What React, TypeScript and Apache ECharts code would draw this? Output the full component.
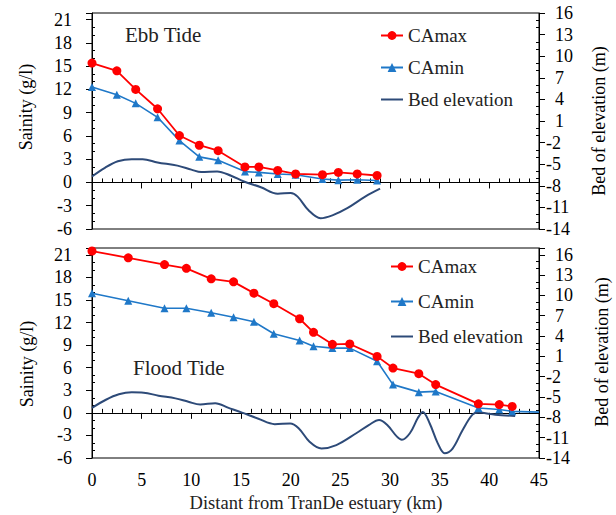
import React, { useEffect, useRef } from "react";
import * as echarts from "echarts";

// ---------- data ----------
// Ebb tide (top panel)
const ebbKm = [0, 2.5, 4.4, 6.6, 8.8, 10.8, 12.7, 15.4, 16.8, 18.7, 20.5, 23.2, 24.8, 26.7, 28.7];
const ebbMax = [15.4, 14.4, 12.0, 9.5, 6.05, 4.8, 4.1, 2.0, 2.0, 1.55, 1.1, 1.0, 1.3, 1.1, 0.9];
const ebbMin = [12.3, 11.3, 10.2, 8.4, 5.4, 3.3, 2.85, 1.4, 1.3, 1.1, 1.0, 0.45, 0.3, 0.35, 0.25];
const ebbBedKm = [0, 1.3, 2.6, 4.0, 5.1, 6.6, 8.6, 10, 11, 12.6, 14, 15.3, 17, 18.7, 20, 20.7, 21.8, 23, 24.2, 25.7, 27.5, 29];
const ebbBed = [-6.7, -5.5, -4.6, -4.3, -4.3, -4.75, -5.2, -5.75, -6.1, -6.0, -6.6, -7.4, -8.2, -9.1, -9.0, -9.5, -11.4, -12.5, -12.1, -11.1, -9.5, -8.4];

// Flood tide (bottom panel)
const floodKm = [0, 3.65, 7.3, 9.5, 12, 14.25, 16.3, 18.3, 20.9, 22.3, 24.2, 25.95, 28.7, 30.3, 32.9, 34.6, 38.9, 41, 42.3];
const floodMax = [21.5, 20.6, 19.7, 19.2, 17.8, 17.4, 15.9, 14.5, 12.5, 10.7, 9.1, 9.15, 7.5, 5.95, 5.2, 3.75, 1.2, 1.1, 0.85];
const floodMin = [15.9, 14.9, 13.9, 13.9, 13.3, 12.7, 12.1, 10.5, 9.6, 8.85, 8.6, 8.6, 6.85, 3.75, 2.75, 2.85, 0.65, 0.45, 0.2];
const floodMinTail = [45, 0.1];
const floodBedKm = [0, 1.4, 2.7, 4.0, 5.2, 6.7, 8.4, 9.7, 10.9, 12.4, 13.75, 15.1, 16.75, 18.4, 19.95, 20.8, 21.9, 23.1, 24.6, 26.6, 27.9, 28.9, 29.7, 30.7, 31.2, 32.0, 32.8, 33.3, 34.0, 34.8, 35.5, 36.3, 37.3, 38.3, 38.9, 40.6, 42.6];
const floodBed = [-6.6, -5.4, -4.6, -4.3, -4.35, -4.8, -5.2, -5.7, -6.1, -5.9, -6.6, -7.3, -8.2, -9.0, -8.9, -9.6, -11.6, -12.6, -12.1, -10.35, -9.1, -8.4, -9.1, -10.85, -11.3, -10.35, -8.1, -7.2, -8.9, -11.8, -13.3, -12.6, -9.9, -7.6, -7.3, -7.6, -7.8];

const legendNames = ["CAmax", "CAmin", "Bed elevation"];

// ---------- style ----------
const FONT = "'Liberation Serif', 'Times New Roman', serif";
const RED = "#ff0000";
const BLUE = "#1f78c8";
const NAVY = "#2d4a78";
const BLACK = "#000";

const pairs = (xs: number[], ys: number[]) => xs.map((x, i) => [x, ys[i]]);

const leftAxis = (gridIndex: number, max: number) => ({
  type: "value",
  gridIndex,
  min: -6,
  max,
  interval: 3,
  position: "left",
  axisLine: { show: true, onZero: false, lineStyle: { color: BLACK, width: 1 } },
  axisTick: { show: true, length: 6, lineStyle: { color: BLACK } },
  minorTick: { show: true, splitNumber: 3, length: -3, lineStyle: { color: BLACK } },
  splitLine: { show: false },
  axisLabel: {
    fontSize: 18,
    fontFamily: FONT,
    color: BLACK,
    margin: 20,
    formatter: (v: number) => (Math.abs(v % 3) < 1e-9 ? String(v) : ""),
  },
});

const rightAxis = (gridIndex: number, max: number) => ({
  type: "value",
  gridIndex,
  min: -14,
  max,
  interval: 3,
  position: "right",
  axisLine: { show: true, onZero: false, lineStyle: { color: BLACK, width: 1 } },
  axisTick: { show: true, length: 6, lineStyle: { color: BLACK } },
  minorTick: { show: true, splitNumber: 3, length: -3, lineStyle: { color: BLACK } },
  splitLine: { show: false },
  axisLabel: {
    fontSize: 18,
    fontFamily: FONT,
    color: BLACK,
    margin: 7,
    align: "left",
    formatter: (v: number) => {
      if (Math.abs((v + 14) % 3) > 1e-9) return "";
      return v < 0 ? String(v) : `{p|${v}}`;
    },
    rich: { p: { padding: [0, 0, 0, 9], fontSize: 18, fontFamily: FONT, color: BLACK } },
  },
});

const zeroAxisBase = {
  type: "value",
  min: 0,
  max: 45,
  interval: 5,
  axisLabel: { show: false },
  splitLine: { show: false },
  axisLine: { show: true, onZero: true, lineStyle: { color: BLACK, width: 1 } },
  minorTick: { show: true, splitNumber: 5, length: -4, lineStyle: { color: BLACK } },
};

const lineSeries = (
  name: string,
  data: any[],
  xi: number,
  yi: number,
  color: string,
  symbol: string,
  symbolSize: number,
  width: number,
  smooth: any = false
) => ({
  name,
  type: "line",
  xAxisIndex: xi,
  yAxisIndex: yi,
  data,
  symbol,
  symbolSize,
  showSymbol: symbol !== "none",
  smooth,
  color,
  itemStyle: { color },
  lineStyle: { color, width },
  emphasis: { disabled: true },
});

const legendCfg = (left: number, top: number, gap: number) => ({
  orient: "vertical",
  left,
  top,
  padding: 0,
  itemWidth: 22,
  itemHeight: 11,
  itemGap: gap,
  data: [
    { name: legendNames[0] },
    { name: legendNames[1] },
    { name: legendNames[2], itemStyle: { opacity: 0 } },
  ],
  textStyle: { fontSize: 19, fontFamily: FONT, color: "#222" },
  selectedMode: false,
});

export default function App() {
  const ref = useRef<HTMLDivElement>(null);

  useEffect(() => {
    if (!ref.current) return;
    const chart = echarts.init(ref.current, null, { renderer: "svg" });

    const option: any = {
      animation: false,
      backgroundColor: "#fff",
      textStyle: { fontFamily: FONT },
      grid: [
        { left: 92, right: 77, top: 13, height: 216, show: true, borderColor: BLACK, borderWidth: 1, backgroundColor: "transparent" },
        { left: 92, right: 77, top: 248, height: 210, show: true, borderColor: BLACK, borderWidth: 1, backgroundColor: "transparent" },
      ],
      xAxis: [
        { ...zeroAxisBase, gridIndex: 0, position: "bottom", axisLine: { ...zeroAxisBase.axisLine, onZeroAxisIndex: 0 }, axisTick: { show: true, length: 6, lineStyle: { color: BLACK } } },
        {
          type: "value",
          gridIndex: 1,
          min: 0,
          max: 45,
          interval: 5,
          position: "bottom",
          axisLine: { show: false, onZero: false },
          axisTick: { show: false },
          splitLine: { show: false },
          axisLabel: { fontSize: 18, fontFamily: FONT, color: BLACK, margin: 13 },
        },
        { ...zeroAxisBase, gridIndex: 1, position: "top", axisLine: { ...zeroAxisBase.axisLine, onZeroAxisIndex: 2 }, axisTick: { show: true, inside: true, length: 6, lineStyle: { color: BLACK } } },
      ],
      yAxis: [leftAxis(0, 21.85), rightAxis(0, 16), leftAxis(1, 21.9), rightAxis(1, 17)],
      legend: [legendCfg(380, 26, 13), legendCfg(390, 257, 16)],
      series: [
        lineSeries("Bed elevation", pairs(ebbBedKm, ebbBed), 0, 1, NAVY, "none", 0, 2, 0.35),
        lineSeries("CAmin", pairs(ebbKm, ebbMin), 0, 0, BLUE, "triangle", 8, 1.6),
        lineSeries("CAmax", pairs(ebbKm, ebbMax), 0, 0, RED, "circle", 9, 1.8),
        lineSeries("Bed elevation", pairs(floodBedKm, floodBed), 1, 3, NAVY, "none", 0, 2, 0.35),
        lineSeries(
          "CAmin",
          [...pairs(floodKm, floodMin), { value: floodMinTail, symbol: "none" }],
          1,
          2,
          BLUE,
          "triangle",
          8,
          1.6
        ),
        lineSeries("CAmax", pairs(floodKm, floodMax), 1, 2, RED, "circle", 9, 1.8),
      ],
      graphic: [
        { type: "text", left: 125, top: 24, style: { text: "Ebb Tide", fontSize: 21, fontFamily: FONT, fill: "#222" } },
        { type: "text", left: 133, top: 357, style: { text: "Flood Tide", fontSize: 21, fontFamily: FONT, fill: "#222" } },
        { type: "text", x: 26, y: 107, rotation: Math.PI / 2, style: { text: "Sainity (g/l)", fontSize: 18, fontFamily: FONT, fill: BLACK, align: "center", verticalAlign: "middle" } },
        { type: "text", x: 27, y: 364, rotation: Math.PI / 2, style: { text: "Sainity (g/l)", fontSize: 18, fontFamily: FONT, fill: BLACK, align: "center", verticalAlign: "middle" } },
        { type: "text", x: 599, y: 121, rotation: Math.PI / 2, style: { text: "Bed of elevation (m)", fontSize: 18, fontFamily: FONT, fill: BLACK, align: "center", verticalAlign: "middle" } },
        { type: "text", x: 602, y: 352, rotation: Math.PI / 2, style: { text: "Bed of elevation (m)", fontSize: 18, fontFamily: FONT, fill: BLACK, align: "center", verticalAlign: "middle" } },
        { type: "text", x: 316, y: 503, style: { text: "Distant from TranDe estuary (km)", fontSize: 18.5, fontFamily: FONT, fill: "#222", align: "center", verticalAlign: "middle" } },
      ],
    };

    chart.setOption(option);
    return () => chart.dispose();
  }, []);

  return (
    <div
      ref={ref}
      style={{ position: "fixed", left: 0, top: 0, width: 616, height: 515, background: "#fff" }}
    />
  );
}
